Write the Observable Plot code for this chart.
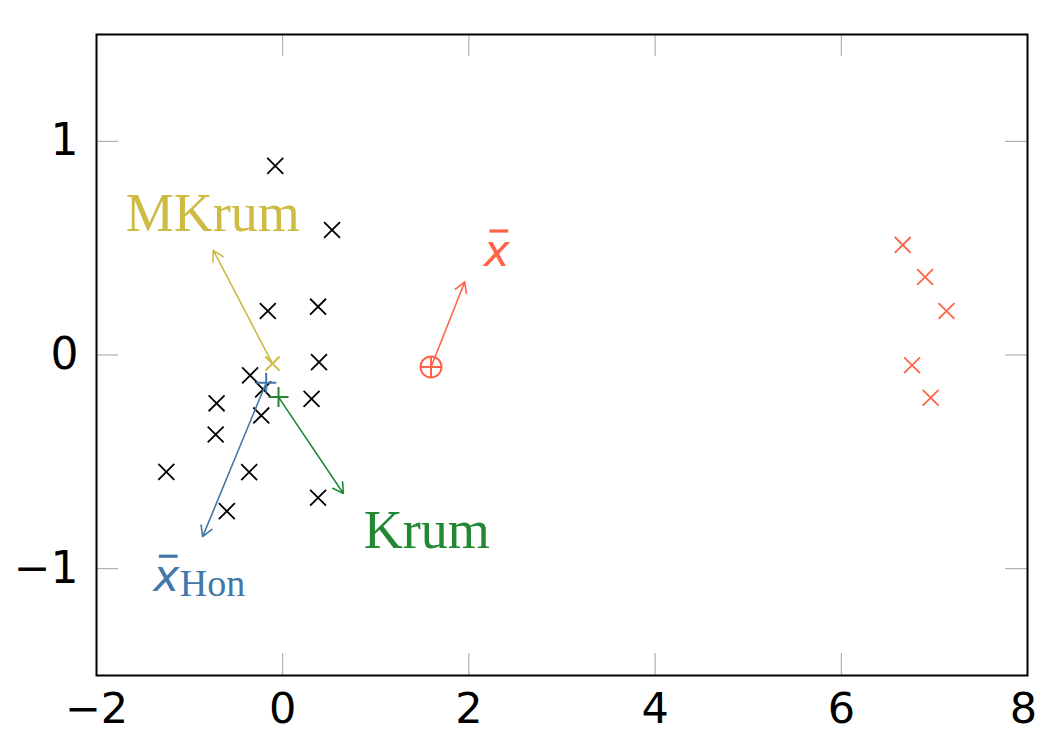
<!DOCTYPE html>
<html><head><meta charset="utf-8">
<script src="https://cdn.jsdelivr.net/npm/d3@7"></script>
<script src="https://cdn.jsdelivr.net/npm/@observablehq/plot@0.6"></script>
<style>body{margin:0;background:#fff}</style>
</head><body><div id="chart"></div>
<script>
// Honest clients (black ×)
const honestX = [-0.08, 0.53, -0.16, 0.38, 0.39, -0.35, -0.21, 0.31, -0.71, -0.23, -0.72, -1.25, -0.36, 0.38, -0.60];
const honestY = [0.885, 0.585, 0.206, 0.226, -0.033, -0.095, -0.161, -0.205, -0.226, -0.283, -0.372, -0.547, -0.548, -0.668, -0.731];
// Byzantine clients (red ×)
const byzX = [6.66, 6.90, 7.13, 6.76, 6.96];
const byzY = [0.515, 0.365, 0.206, -0.048, -0.200];
// Aggregates: position, arrow end, colour, symbol
const aggName = ["mean", "MKrum", "Hon", "Krum"];
const aggX = [1.593, -0.11, -0.177, -0.045];
const aggY = [-0.056, -0.04, -0.13, -0.197];
const arrowX = [1.955, -0.745, -0.86, 0.652];
const arrowY = [0.342, 0.49, -0.85, -0.648];
const aggColor = ["#ff6347", "#cdbb44", "#4477aa", "#228833"];
const aggSymbol = ["plus", "times", "plus", "plus"];
// Labels
const labelText = ["x", "MKrum", "x", "Krum"];
const labelX = [2.30, -0.752, -1.251, 1.547];
const labelY = [0.482, 0.66, -1.04, -0.824];
const subText = ["Hon"];
const subX = [-1.106];
const subY = [-1.07];
// Ticks
const xTicks = [-2, 0, 2, 4, 6, 8];
const yTicks = [-1, 0, 1];

const honest = honestX.map((x, i) => ({x, y: honestY[i]}));
const byz = byzX.map((x, i) => ({x, y: byzY[i]}));
const aggs = aggName.map((n, i) => ({name: n, x: aggX[i], y: aggY[i], x2: arrowX[i], y2: arrowY[i], color: aggColor[i], symbol: aggSymbol[i]}));
const labels = labelText.map((t, i) => ({t, x: labelX[i], y: labelY[i], color: aggColor[i], serif: i === 1 || i === 3}));
const subs = subText.map((t, i) => ({t, x: subX[i], y: subY[i]}));

const W = 1038, H = 734, mL = 96, mR = 11, mT = 34, mB = 59;
const fw = W - mL - mR, fh = H - mT - mB, tk = 22;
const fmt = d => d3.format("d")(d).replace("-", "\u2212");
// horizontal bar symbol (for the x̄ overbar)
const barSymbol = {draw(ctx, size) { const r = Math.sqrt(size / Math.PI); ctx.moveTo(-r, 0); ctx.lineTo(r, 0); }};
const axisFont = {fontSize: 43, fontFamily: "DejaVu Sans", label: null, tickFormat: fmt, tickSize: 0};

const plot = Plot.plot({
  width: W, height: H,
  marginLeft: mL, marginRight: mR, marginTop: mT, marginBottom: mB,
  x: {domain: [-2, 8]},
  y: {domain: [-1.5, 1.5]},
  color: {type: "identity"},
  style: {background: "white", color: "black"},
  marks: [
    Plot.axisX(xTicks.slice(0, -1), {...axisFont, tickPadding: 17}),
    Plot.axisX(xTicks.slice(-1), {...axisFont, tickPadding: 17, dx: -4}),
    Plot.axisY(yTicks, {...axisFont, fontSize: 44, tickPadding: 18}),
    Plot.tickX(xTicks, {x: d => d, insetTop: fh - tk, stroke: "#a0a0a0", strokeWidth: 1}),
    Plot.tickX(xTicks, {x: d => d, insetBottom: fh - tk, stroke: "#a0a0a0", strokeWidth: 1}),
    Plot.tickY(yTicks, {y: d => d, insetRight: fw - tk, stroke: "#a0a0a0", strokeWidth: 1}),
    Plot.tickY(yTicks, {y: d => d, insetLeft: fw - tk, stroke: "#a0a0a0", strokeWidth: 1}),
    Plot.frame({stroke: "black", strokeWidth: 2}),
    Plot.dot(honest, {x: "x", y: "y", symbol: "times", r: 7.3, stroke: "black", strokeWidth: 1.8}),
    Plot.dot(byz, {x: "x", y: "y", symbol: "times", r: 7.3, stroke: "#ff6347", strokeWidth: 1.8}),
    Plot.arrow(aggs, {x1: "x", y1: "y", x2: "x2", y2: "y2", stroke: "color", strokeWidth: 1.6, headLength: 11}),
    Plot.dot(aggs, {x: "x", y: "y", symbol: "symbol", r: 6.5, stroke: "color", strokeWidth: 2}),
    Plot.dot(aggs.filter(d => d.name === "mean"), {x: "x", y: "y", symbol: "circle", r: 10.5, stroke: "color", strokeWidth: 2, fill: "none"}),
    Plot.text(labels.filter(d => d.serif), {x: "x", y: "y", text: "t", fill: "color", fontSize: 54, fontFamily: "Liberation Serif"}),
    Plot.text(labels.filter(d => !d.serif), {x: "x", y: "y", text: "t", fill: "color", fontSize: 44, fontFamily: "DejaVu Sans", fontStyle: "italic"}),
    Plot.dot(labels.filter(d => !d.serif), {x: "x", y: "y", symbol: barSymbol, r: 9.4, stroke: "color", strokeWidth: 3.2, dx: 2, dy: -21}),
    Plot.text(subs, {x: "x", y: "y", text: "t", fill: "#4477aa", fontSize: 38, fontFamily: "Liberation Serif", textAnchor: "start"})
  ]
});
document.getElementById("chart").appendChild(plot);
</script>
</body></html>
